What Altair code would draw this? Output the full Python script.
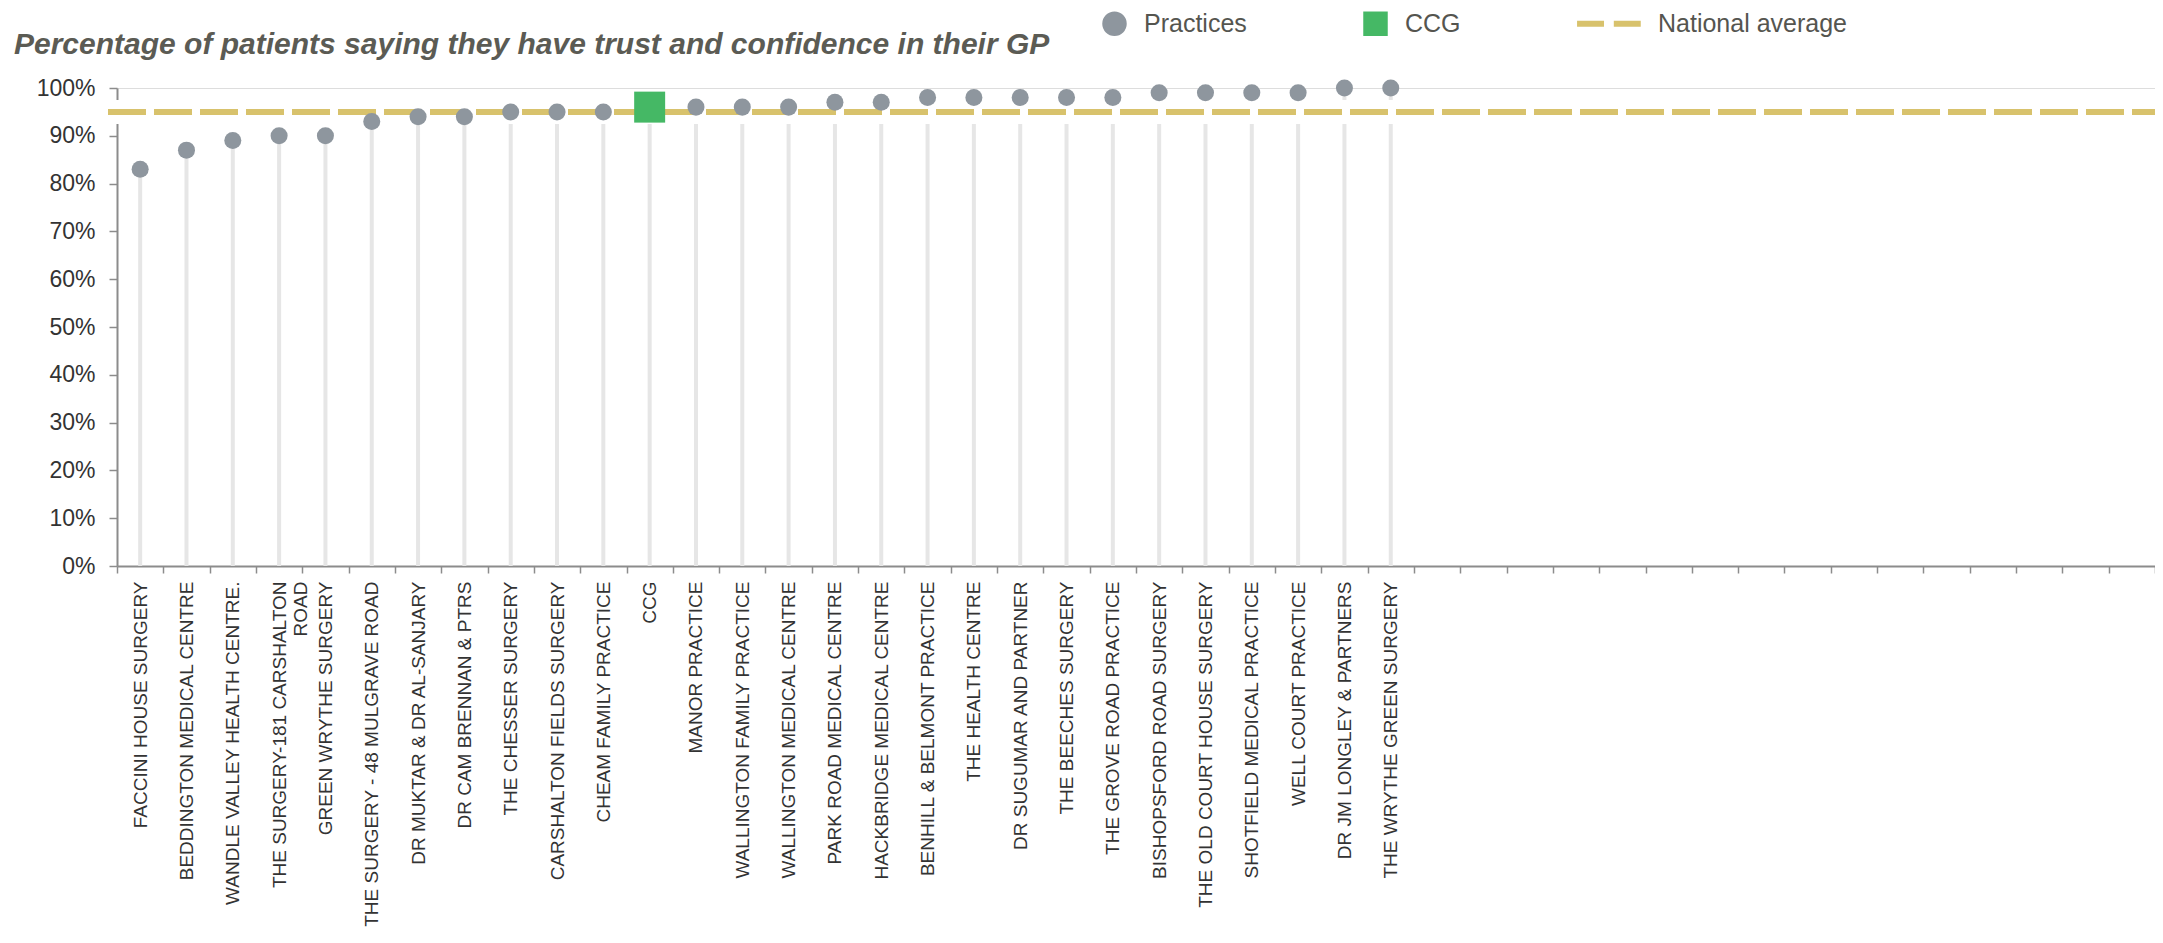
import altair as alt
import pandas as pd

# ---- data ----
categories = [
    "FACCINI HOUSE SURGERY",
    "BEDDINGTON MEDICAL CENTRE",
    "WANDLE VALLEY HEALTH CENTRE.",
    "THE SURGERY-181 CARSHALTON\nROAD",
    "GREEN WRYTHE SURGERY",
    "THE SURGERY - 48 MULGRAVE ROAD",
    "DR MUKTAR & DR AL-SANJARY",
    "DR CAM BRENNAN & PTRS",
    "THE CHESSER SURGERY",
    "CARSHALTON FIELDS SURGERY",
    "CHEAM FAMILY PRACTICE",
    "CCG",
    "MANOR PRACTICE",
    "WALLINGTON FAMILY PRACTICE",
    "WALLINGTON MEDICAL CENTRE",
    "PARK ROAD MEDICAL CENTRE",
    "HACKBRIDGE MEDICAL CENTRE",
    "BENHILL & BELMONT PRACTICE",
    "THE HEALTH CENTRE",
    "DR SUGUMAR AND PARTNER",
    "THE BEECHES SURGERY",
    "THE GROVE ROAD PRACTICE",
    "BISHOPSFORD ROAD SURGERY",
    "THE OLD COURT HOUSE SURGERY",
    "SHOTFIELD MEDICAL PRACTICE",
    "WELL COURT PRACTICE",
    "DR JM LONGLEY & PARTNERS",
    "THE WRYTHE GREEN SURGERY",
]
values = [83, 87, 89, 90, 90, 93, 94, 94, 95, 95, 95, 96, 96, 96, 96, 97, 97,
          98, 98, 98, 98, 98, 99, 99, 99, 99, 100, 100]
series = ["CCG" if c == "CCG" else "Practices" for c in categories]
empty_slots = [f"_e{i}" for i in range(16)]
national_average = [95]

legend_domain = ["Practices", "CCG", "National average"]
legend_colors = ["#8e969e", "#45b865", "#d8c26c"]
dash_path = "M-4.2,-0.24H-2.0V0.24H-4.2Z M-1.2,-0.24H1.0V0.24H-1.2Z"
legend_shapes = ["circle", "square", dash_path]

W, H = 2038, 478
FONT = "Liberation Sans"

df = pd.DataFrame({"name": categories, "value": values, "series": series})
avg_df = pd.DataFrame({"avg": national_average})
x_domain = categories + empty_slots

x_enc = alt.X(
    "name:N",
    scale=alt.Scale(type="band", domain=x_domain, paddingInner=0, paddingOuter=0),
    axis=alt.Axis(
        title=None,
        labelAngle=-90,
        labelAlign="right",
        labelBaseline="middle",
        labelFontSize=19,
        labelFont=FONT,
        labelColor="#333333",
        labelPadding=8,
        labelLimit=400,
        labelExpr="indexof(datum.label, '_e') === 0 ? '' : split(datum.label, '\\n')",
        labelLineHeight=21,
        tickBand="extent",
        tickSize=7,
        tickColor="#8c8c8c",
        tickWidth=1.5,
        domainColor="#8c8c8c",
        domainWidth=2,
        grid=False,
    ),
)
y_scale = alt.Scale(domain=[0, 100], nice=False)
y_axis = alt.Axis(
    title=None,
    values=list(range(0, 101, 10)),
    labelExpr="datum.value + '%'",
    labelFontSize=23,
    labelFont=FONT,
    labelColor="#333333",
    labelPadding=14,
    tickSize=8,
    tickColor="#8c8c8c",
    tickWidth=1.5,
    domainColor="#8c8c8c",
    domainWidth=2,
    grid=False,
)

base = alt.Chart(df)

stems = base.mark_rule(color="#e6e6e6", strokeWidth=4).encode(
    x=x_enc,
    y=alt.Y("value:Q", scale=y_scale, axis=y_axis),
    y2=alt.datum(0),
)

band = alt.Chart(avg_df).mark_rule(color="white", strokeWidth=24).encode(
    y=alt.Y("avg:Q", scale=y_scale),
    x=alt.value(-9),
    x2=alt.value(W),
)

avg_line = alt.Chart(avg_df).mark_rule(
    color="#d8c26c", strokeWidth=6, strokeDash=[38, 8]
).encode(
    y=alt.Y("avg:Q", scale=y_scale),
    x=alt.value(-9),
    x2=alt.value(W),
)

legend = alt.Legend(
    title=None,
    orient="none",
    legendX=985,
    legendY=-77,
    direction="horizontal",
    gridAlign="each",
    symbolSize=600,
    symbolStrokeWidth=0,
    labelFontSize=25,
    labelFont=FONT,
    labelColor="#55554f",
    labelOffset=17,
    labelLimit=400,
    columnPadding=116,
    padding=0,
)

color_enc = alt.Color("series:N", scale=alt.Scale(domain=legend_domain, range=legend_colors), legend=legend)
shape_enc = alt.Shape("series:N", scale=alt.Scale(domain=legend_domain, range=legend_shapes), legend=legend)

circles = base.mark_point(filled=True, opacity=1, strokeWidth=0, size=290).encode(
    x=x_enc,
    y=alt.Y("value:Q", scale=y_scale),
    color=color_enc,
    shape=shape_enc,
).transform_filter(alt.datum.series == "Practices")

squares = base.mark_point(filled=True, opacity=1, strokeWidth=0, size=960).encode(
    x=x_enc,
    y=alt.Y("value:Q", scale=y_scale),
    color=color_enc,
    shape=shape_enc,
).transform_filter(alt.datum.series == "CCG")

chart = alt.layer(stems, band, avg_line, circles, squares).properties(
    width=W,
    height=H,
    autosize=alt.AutoSizeParams(type="none"),
    padding={"left": 109, "top": 80, "right": 0, "bottom": 365},
    title=alt.TitleParams(
        text="Percentage of patients saying they have trust and confidence in their GP",
        anchor="start",
        frame="group",
        dx=-103,
        dy=93,
        fontSize=30,
        font=FONT,
        fontStyle="italic",
        fontWeight="bold",
        color="#5b5b54",
        baseline="alphabetic",
        offset=20,
    ),
).configure_view(stroke=None).configure(background="white")

chart.save("out.html", embed_options={"renderer": "svg", "actions": False})
